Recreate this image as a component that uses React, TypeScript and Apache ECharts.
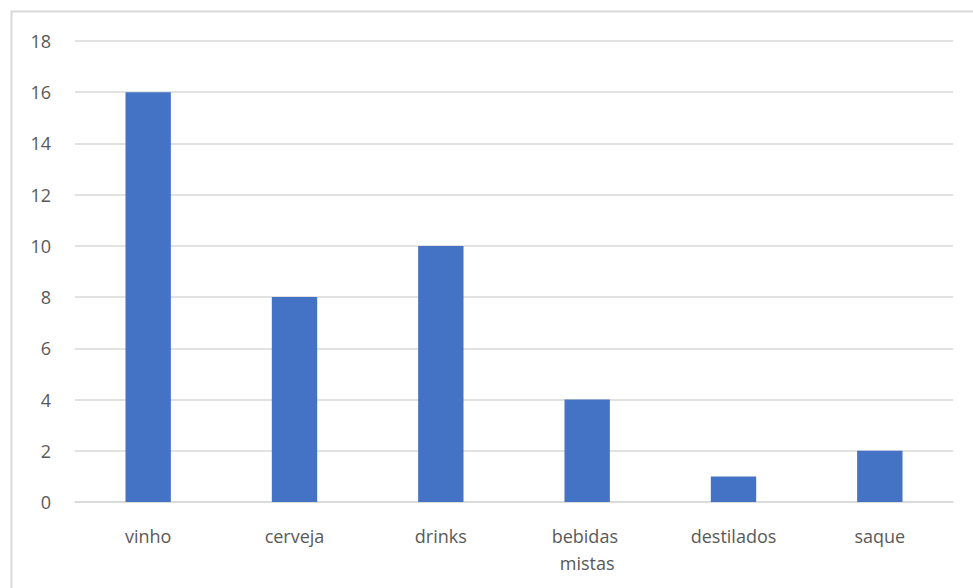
import React, { useEffect, useRef } from "react";
import * as echarts from "echarts";

const categories = ["vinho", "cerveja", "drinks", "bebidas mistas", "destilados", "saque"];
const values = [16, 8, 10, 4, 1, 2];
const yTicks = { min: 0, max: 18, interval: 2 };

export default function App() {
  const ref = useRef<HTMLDivElement>(null);
  useEffect(() => {
    if (!ref.current) return;
    const chart = echarts.init(ref.current, undefined, { renderer: "svg" });
    chart.setOption({
      animation: false,
      backgroundColor: "#ffffff",
      graphic: [
        {
          type: "rect",
          shape: { x: 11.5, y: 11.5, width: 1200, height: 1200 },
          style: { fill: "none", stroke: "#d9d9d9", lineWidth: 2 },
          silent: true,
        },
      ],
      grid: { left: 75, right: 20, top: 41, bottom: 86, containLabel: false },
      xAxis: {
        type: "category",
        data: categories,
        axisLine: { show: true, lineStyle: { color: "#d9d9d9", width: 1.5 } },
        axisTick: { show: false },
        axisLabel: {
          color: "#595959",
          fontFamily: "Open Sans",
          fontSize: 18,
          margin: 20,
          lineHeight: 27,
          width: 100,
          overflow: "break",
          interval: 0,
        },
      },
      yAxis: {
        type: "value",
        min: yTicks.min,
        max: yTicks.max,
        interval: yTicks.interval,
        axisLine: { show: false },
        axisTick: { show: false },
        axisLabel: {
          color: "#595959",
          fontFamily: "Open Sans",
          fontSize: 18,
          margin: 24,
        },
        splitLine: { lineStyle: { color: "#d9d9d9", width: 1.5 } },
      },
      series: [
        {
          type: "bar",
          data: values,
          barWidth: "31%",
          itemStyle: { color: "#4472c4" },
        },
      ],
    });
    return () => chart.dispose();
  }, []);
  return <div ref={ref} style={{ width: 973, height: 588, position: "absolute", left: 0, top: 0 }} />;
}
